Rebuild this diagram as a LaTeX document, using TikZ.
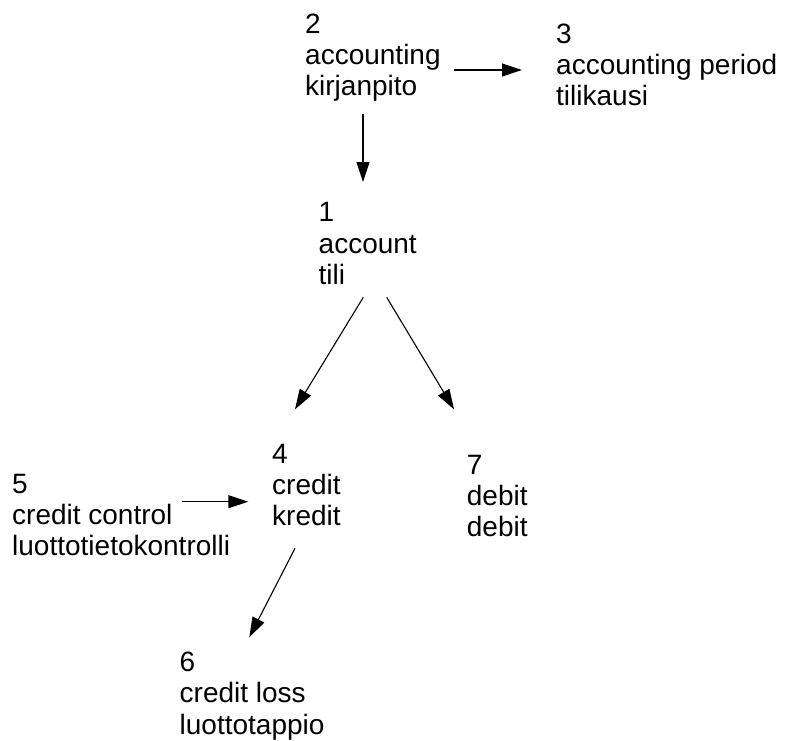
\documentclass[tikz,border=0pt]{standalone}
\usepackage{fontspec}
\setmainfont{Liberation Sans}
\usetikzlibrary{arrows.meta,calc}
\newcommand{\threelines}[3]{\vtop{\hbox{#1}\hbox{#2}\hbox{#3}}}
\tikzset{
  lbl/.style={inner sep=0pt, anchor=base west, font=\fontsize{28}{31.3}\selectfont},
  arr/.style={line width=1.1pt, -{Triangle[length=20pt,width=13pt]}}
}
\begin{document}
\begin{tikzpicture}[x=1pt,y=-1pt]
\useasboundingbox[fill=white] (0,0) rectangle (785,740);
\node[lbl] (n2) at (305,33) {\threelines{2}{accounting}{kirjanpito}};
\node[lbl] (n3) at (556,43) {\threelines{3}{accounting period}{tilikausi}};
\node[lbl] (n1) at (318.5,221.7) {\threelines{1}{account}{tili}};
\node[lbl] (n4) at (272,463) {\threelines{4}{credit}{kredit}};
\node[lbl] (n5) at (12,493) {\threelines{5}{credit control}{luottotietokontrolli}};
\node[lbl] (n6) at (179.5,671.5) {\threelines{6}{credit loss}{luottotappio}};
\node[lbl] (n7) at (466.7,474) {\threelines{7}{debit}{debit}};
\draw[arr] ($(n2.base west)+(149,37)$) -- ($(n3.base west)+(-34,27)$);
\draw[arr] ($(n2.base west)+(58,81)$) -- ($(n1.base west)+(44.5,-39.7)$);
\draw[arr] ($(n1.base west)+(44.8,75.6)$) -- ($(n4.base west)+(23,-53.7)$);
\draw[arr] ($(n1.base west)+(68.2,75.6)$) -- ($(n7.base west)+(-12.7,-64.7)$);
\draw[arr] ($(n5.base west)+(169.7,8.7)$) -- ($(n4.base west)+(-23.7,38.7)$);
\draw[arr] ($(n4.base west)+(23,85.3)$) -- ($(n6.base west)+(69.8,-34.2)$);
\end{tikzpicture}
\end{document}
